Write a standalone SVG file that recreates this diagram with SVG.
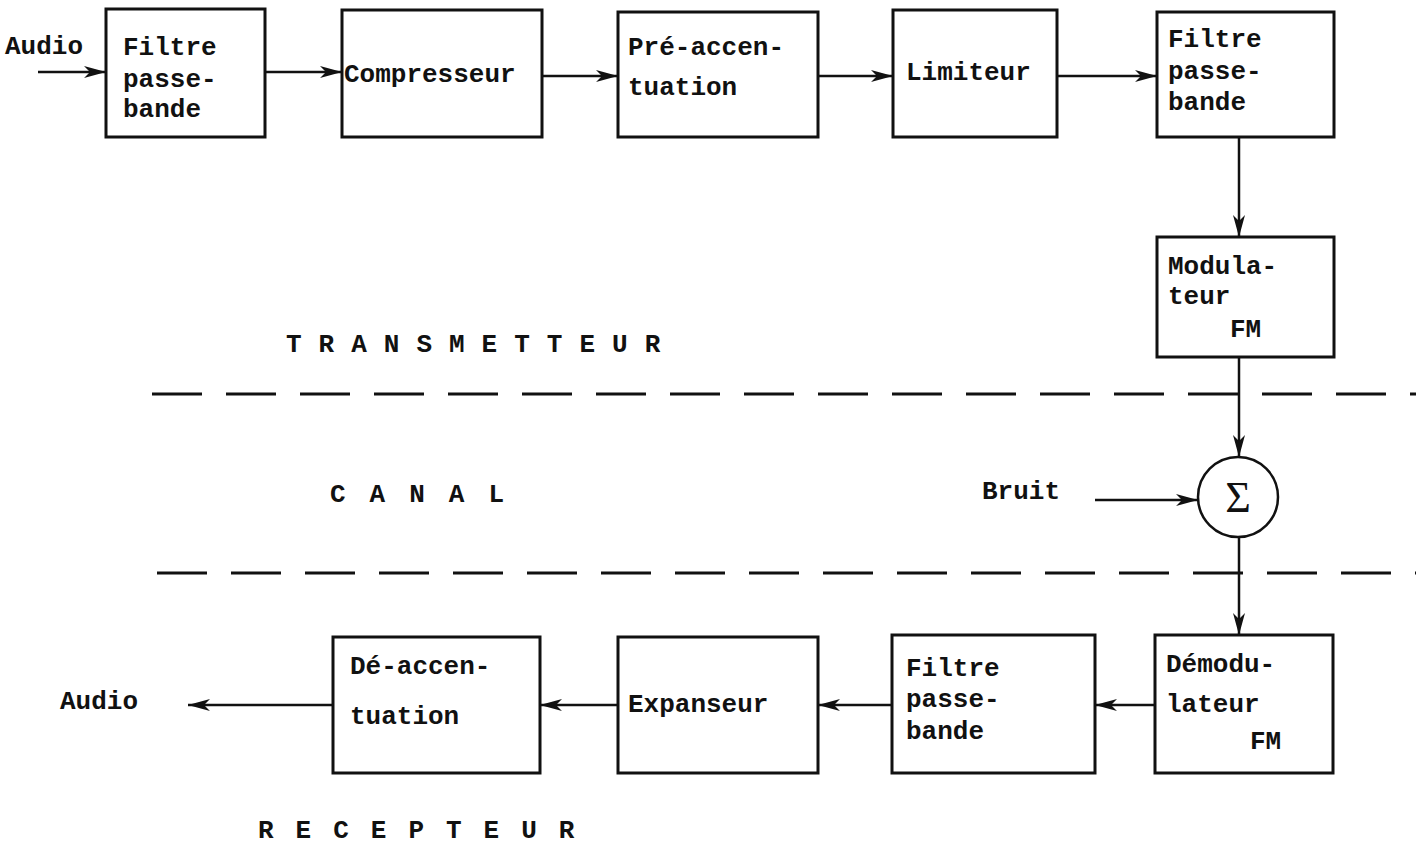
<svg xmlns="http://www.w3.org/2000/svg" width="1416" height="852" viewBox="0 0 1416 852">
<style>
.box{fill:none;stroke:#111;stroke-width:3}
.t{font-family:"Liberation Mono","Courier New",monospace;font-size:26px;font-weight:bold;fill:#111}
.c{stroke:#111;stroke-width:2.5;fill:none}
.d{stroke:#111;stroke-width:3;stroke-dasharray:50 24;fill:none}
</style>
<defs>
<marker id="ah" viewBox="0 0 22 12" refX="22" refY="6" markerWidth="22" markerHeight="12" markerUnits="userSpaceOnUse" orient="auto">
<path d="M0,0 L22,6 L0,12 L6,6 Z" fill="#111"/>
</marker>
</defs>
<rect width="1416" height="852" fill="#fff"/>
<g id="n1"><rect class="box" x="106" y="9" width="159" height="128"/><text class="t" x="123" y="55">Filtre</text><text class="t" x="123" y="87">passe-</text><text class="t" x="123" y="117">bande</text></g>
<g id="n2"><rect class="box" x="342" y="10" width="200" height="127"/><text class="t" x="344" y="82">Compresseur</text></g>
<g id="n3"><rect class="box" x="618" y="12" width="200" height="125"/><text class="t" x="628" y="55">Pré-accen-</text><text class="t" x="628" y="95">tuation</text></g>
<g id="n4"><rect class="box" x="893" y="10" width="164" height="127"/><text class="t" x="906" y="80">Limiteur</text></g>
<g id="n5"><rect class="box" x="1157" y="12" width="177" height="125"/><text class="t" x="1168" y="47">Filtre</text><text class="t" x="1168" y="79">passe-</text><text class="t" x="1168" y="110">bande</text></g>
<g id="n6"><rect class="box" x="1157" y="237" width="177" height="120"/><text class="t" x="1168" y="274">Modula-</text><text class="t" x="1168" y="304">teur</text><text class="t" x="1230" y="337">FM</text></g>
<g id="sum"><circle cx="1238" cy="497" r="40" fill="none" stroke="#111" stroke-width="2.5"/><text x="1238" y="512" text-anchor="middle" font-family="Liberation Serif,serif" font-size="44" fill="#111">Σ</text></g>
<g id="n7"><rect class="box" x="1155" y="635" width="178" height="138"/><text class="t" x="1166" y="672">Démodu-</text><text class="t" x="1166" y="712">lateur</text><text class="t" x="1250" y="749">FM</text></g>
<g id="n8"><rect class="box" x="892" y="635" width="203" height="138"/><text class="t" x="906" y="676">Filtre</text><text class="t" x="906" y="707">passe-</text><text class="t" x="906" y="739">bande</text></g>
<g id="n9"><rect class="box" x="618" y="637" width="200" height="136"/><text class="t" x="628" y="712">Expanseur</text></g>
<g id="n10"><rect class="box" x="333" y="637" width="207" height="136"/><text class="t" x="350" y="674">Dé-accen-</text><text class="t" x="350" y="724">tuation</text></g>
<g id="labels">
<text class="t" x="5" y="54">Audio</text>
<text class="t" x="60" y="709">Audio</text>
<text class="t" x="982" y="499">Bruit</text>
<text class="t" x="286" y="352" letter-spacing="17">TRANSMETTEUR</text>
<text class="t" x="330" y="502" letter-spacing="24">CANAL</text>
<text class="t" x="258" y="838" letter-spacing="22">RECEPTEUR</text>
</g>
<g id="connectors">
<line class="c" x1="38" y1="72" x2="106" y2="72" marker-end="url(#ah)"/>
<line class="c" x1="265" y1="72" x2="342" y2="72" marker-end="url(#ah)"/>
<line class="c" x1="542" y1="76" x2="618" y2="76" marker-end="url(#ah)"/>
<line class="c" x1="818" y1="76" x2="893" y2="76" marker-end="url(#ah)"/>
<line class="c" x1="1057" y1="76" x2="1157" y2="76" marker-end="url(#ah)"/>
<line class="c" x1="1239" y1="137" x2="1239" y2="237" marker-end="url(#ah)"/>
<line class="c" x1="1239" y1="357" x2="1239" y2="457" marker-end="url(#ah)"/>
<line class="c" x1="1095" y1="500" x2="1198" y2="500" marker-end="url(#ah)"/>
<line class="c" x1="1239" y1="537" x2="1239" y2="635" marker-end="url(#ah)"/>
<line class="c" x1="1155" y1="705" x2="1095" y2="705" marker-end="url(#ah)"/>
<line class="c" x1="892" y1="705" x2="818" y2="705" marker-end="url(#ah)"/>
<line class="c" x1="618" y1="705" x2="540" y2="705" marker-end="url(#ah)"/>
<line class="c" x1="333" y1="705" x2="188" y2="705" marker-end="url(#ah)"/>
<line class="d" x1="152" y1="394" x2="1416" y2="394"/>
<line class="d" x1="157" y1="573" x2="1416" y2="573"/>
</g>
</svg>
